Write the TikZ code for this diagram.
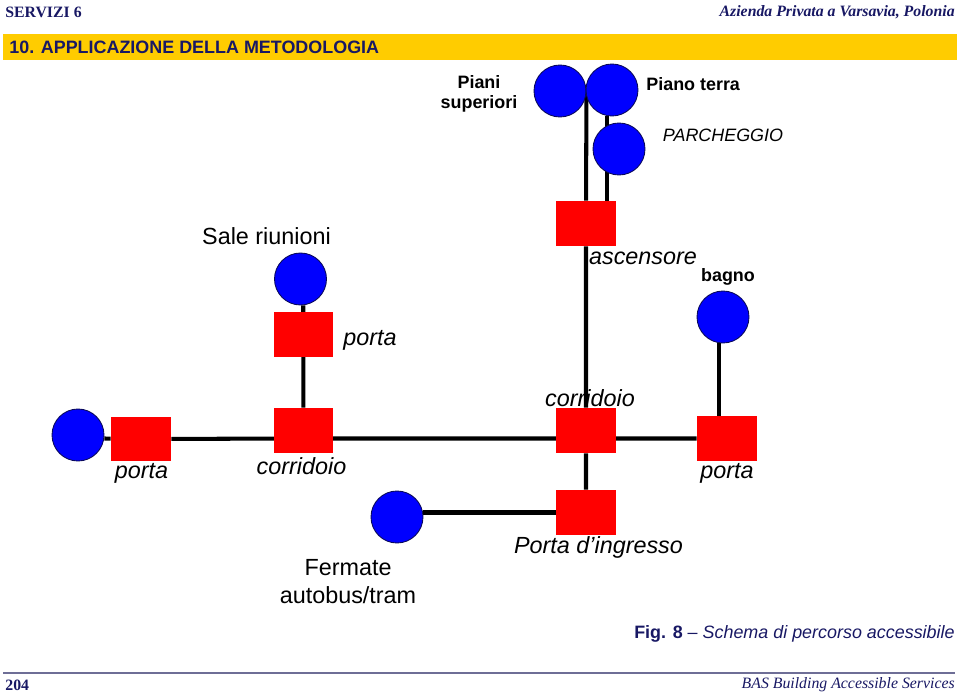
\documentclass[tikz,border=0pt]{standalone}
\usepackage{fontspec}
\setmainfont{Liberation Serif}
\setsansfont{Liberation Sans}
\usetikzlibrary{backgrounds}

\definecolor{navyink}{RGB}{24,24,100}
\definecolor{bandyellow}{RGB}{255,204,0}
\definecolor{rimblue}{RGB}{10,10,90}
\definecolor{ruleblue}{RGB}{110,110,150}

\tikzset{
    place/.style={circle,draw=rimblue,line width=0.5pt,fill=blue,minimum size=1.04cm,inner sep=0pt},
    gate/.style={rectangle,fill=red,minimum width=1.2cm,minimum height=0.9cm,inner sep=0pt},
    way/.style={line width=2.3pt,black},
    big/.style={inner sep=0pt,font=\sffamily\fontsize{13.3}{15.9}\selectfont},
    bigit/.style={inner sep=0pt,font=\sffamily\itshape\fontsize{13.3}{15.9}\selectfont},
    small/.style={inner sep=0pt,font=\sffamily\bfseries\fontsize{10.2}{11.4}\selectfont},
    smallit/.style={inner sep=0pt,font=\sffamily\itshape\fontsize{10.2}{11.4}\selectfont},
    head/.style={inner sep=0pt,text=navyink,font=\bfseries\fontsize{9}{10}\selectfont}
}

\begin{document}
\begin{tikzpicture}[x=0.02cm,y=-0.02cm]
    \useasboundingbox (0,0) rectangle (960,696);
    % Page
    \node[head,anchor=west] (sect) at (5,12) {SERVIZI 6};
    \node[head,anchor=east] (firm) at (955,12) {\itshape Azienda Privata a Varsavia, Polonia};
    \fill[bandyellow] (3,34) rectangle (957,60);
    \node[small,text=navyink,anchor=west] (title) at (9,47) {10. APPLICAZIONE DELLA METODOLOGIA};
    \draw[ruleblue,line width=0.8pt] (3,673) -- (955,673);
    \node[head,anchor=west] (page) at (5,685) {204};
    \node[head,anchor=east] (brand) at (955,685) {\mdseries\itshape BAS Building Accessible Services};
    % Points
    \node[place] (upper) at (560,91) {};
    \node[place] (ground) at (612,90) {};
    \node[place] (park) at (619,149) {};
    \node[place] (hall) at (300.5,279) {};
    \node[place] (bath) at (723,317) {};
    \node[place] (west) at (78,435) {};
    \node[place] (stop) at (397,517) {};
    \node[gate] (lift) at (586,223.5) {};
    \node[gate] (hallgate) at (303.5,334.5) {};
    \node[gate] (corrw) at (303.5,430.5) {};
    \node[gate] (corre) at (586,430.5) {};
    \node[gate] (westgate) at (141,439) {};
    \node[gate] (eastgate) at (727,438.5) {};
    \node[gate] (entry) at (586,512.5) {};
    % Ways
    \begin{pgfonlayer}{background}
        \draw[way] (upper.east) -- (lift) -- (corre) -- (entry);
        \draw[way] (ground.-100) -- (ground.-100 |- lift.north);
        \draw[way] (hall.-84) -- (hall.-84 |- hallgate) -- (corrw);
        \draw[way] (bath.-98) -- (bath.-98 |- eastgate);
        \draw[way] (west.east |- eastgate) -- (westgate) -- (corrw |- eastgate) -- (corre |- eastgate) -- (eastgate);
        \draw[way] (stop.east |- entry) -- (entry);
    \end{pgfonlayer}
    % Labels
    \node[small,align=center] (upperlab) at (479,94) {Piani\\superiori};
    \node[small,anchor=west] (groundlab) at (646,84) {Piano terra};
    \node[smallit] (parklab) at (723,135) {PARCHEGGIO};
    \node[big] (halllab) at (266.5,236) {Sale riunioni};
    \node[bigit] (liftlab) at (643,258) {ascensore};
    \node[small] (bathlab) at (728,277) {bagno};
    \node[bigit] (hallgatelab) at (370,340) {porta};
    \node[bigit] (correlab) at (590,398) {corridoio};
    \node[bigit] (westgatelab) at (141.5,473) {porta};
    \node[bigit] (corrwlab) at (301.5,466) {corridoio};
    \node[bigit] (eastgatelab) at (727,473) {porta};
    \node[bigit] (entrylab) at (598.5,547) {Porta d’ingresso};
    \node[big,align=center] (stoplab) at (348,582) {Fermate\\autobus/tram};
    \node[inner sep=0pt,anchor=east,text=navyink,font=\sffamily\fontsize{10.2}{11.4}\selectfont] (caption) at (955,634) {\textbf{Fig. 8} -- \textit{Schema di percorso accessibile}};
\end{tikzpicture}
\end{document}
